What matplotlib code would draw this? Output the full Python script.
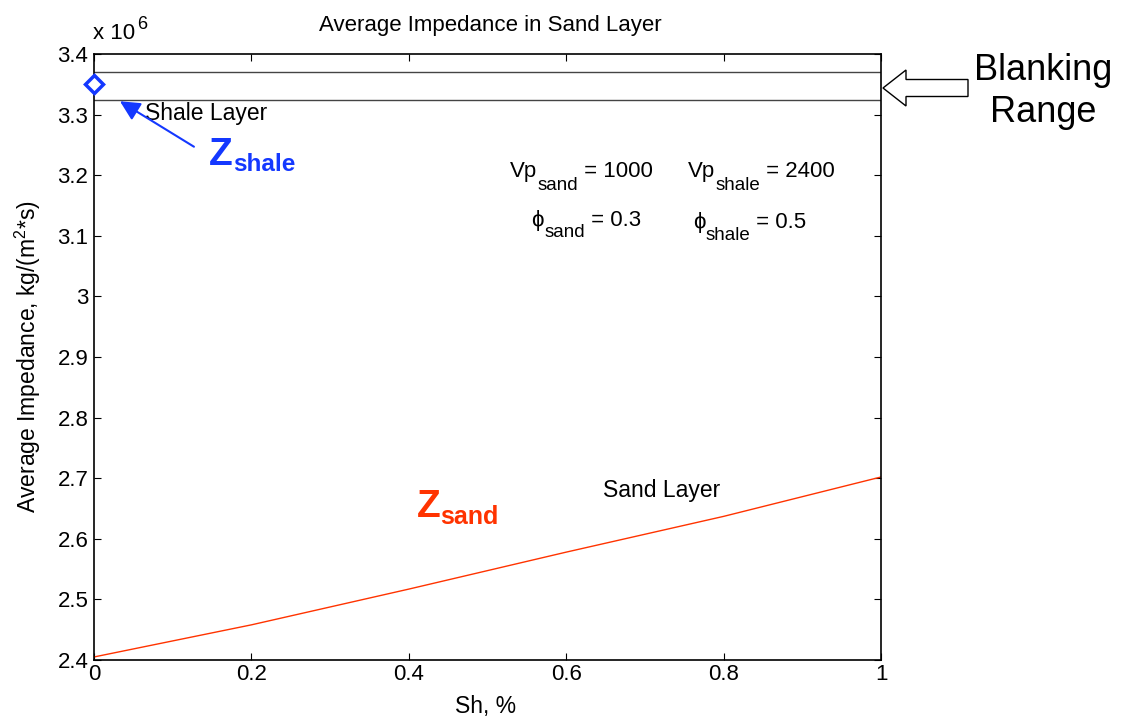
import matplotlib.pyplot as plt
import numpy as np
from matplotlib.patches import FancyArrow
from matplotlib.ticker import FuncFormatter

plt.rcParams['font.family'] = ['Liberation Sans', 'DejaVu Sans']
plt.rcParams['mathtext.fontset'] = 'custom'
plt.rcParams['mathtext.rm'] = 'Liberation Sans'
plt.rcParams['mathtext.it'] = 'Liberation Sans:italic'
plt.rcParams['mathtext.bf'] = 'Liberation Sans:bold'

# sand layer impedance vs shale fraction (x 1e6)
sh = [0.0, 0.2, 0.4, 0.6, 0.8, 1.0]
z_sand = [2.405, 2.458, 2.517, 2.578, 2.637, 2.702]

# shale layer point and blanking range limits (x 1e6)
z_shale = 3.35
blank_hi = 3.37
blank_lo = 3.324

xticks = [0, 0.2, 0.4, 0.6, 0.8, 1]
yticks = [2.4, 2.5, 2.6, 2.7, 2.8, 2.9, 3.0, 3.1, 3.2, 3.3, 3.4]

red = '#ff3300'
blue = '#1438ff'

fig = plt.figure(figsize=(11.32, 7.19), dpi=100)
ax = fig.add_axes([94/1132, 59/719, 787/1132, 606/719])


def sub(t, s, dy, size, **kw):
    # text placed right after t, shifted dy pixels
    return ax.annotate(s, xy=(1, 0), xycoords=t, xytext=(0, dy),
                       textcoords='offset pixels', va='bottom', ha='left',
                       fontsize=size, **kw)


def rest(t, s_art, s, size, **kw):
    # text after s_art, sharing t's baseline
    return ax.annotate(s, xy=(1, 0), xycoords=(s_art, t), va='bottom',
                       ha='left', fontsize=size, **kw)


ax.plot(sh, z_sand, color=red, lw=1.0)
ax.plot([0, 1], [blank_hi, blank_hi], color='#444444', lw=1.0)
ax.plot([0, 1], [blank_lo, blank_lo], color='#444444', lw=1.0)
ax.plot([0], [z_shale], marker='D', ms=9, mfc='white', mec=blue, mew=2.5,
        clip_on=False, zorder=5)

ax.set_xlim(0, 1)
ax.set_ylim(2.4, 3.4)
ax.set_xticks(xticks)
ax.set_yticks(yticks)
ax.xaxis.set_major_formatter(FuncFormatter(lambda v, p: '%g' % v))
ax.yaxis.set_major_formatter(FuncFormatter(lambda v, p: '%g' % v))
ax.tick_params(direction='in', top=True, right=True, length=5, width=0.8,
               labelsize=16)
ax.tick_params(axis='x', pad=3)
ax.tick_params(axis='y', pad=4)
for s in ax.spines.values():
    s.set_linewidth(1.2)

fig.text(490/1132, 1-31/719, 'Average Impedance in Sand Layer', fontsize=16,
         ha='center', va='baseline')
fig.text(486/1132, 1-707/719, 'Sh, %', fontsize=16.5, ha='center', va='center')
fig.text(28/1132, 1-357/719, 'Average Impedance, kg/(m$^2$*s)', fontsize=16.5,
         ha='center', va='center', rotation=90)

fig.text(93/1132, 1-39/719, 'x 10', fontsize=16, ha='left', va='baseline')
fig.text(137/1132, 1-29/719, '6', fontsize=13, ha='left', va='baseline')

ax.text(0.065, 3.291, 'Shale Layer', fontsize=16.5, ha='left', va='baseline')
ax.text(0.647, 2.669, 'Sand Layer', fontsize=16.5, ha='left', va='baseline')

# parameter labels
t1 = ax.text(0.529, 3.197, 'Vp', fontsize=16, ha='left', va='baseline')
s1 = sub(t1, 'sand', -12, 13.5)
rest(t1, s1, ' = 1000', 16)
t2 = ax.text(0.755, 3.197, 'Vp', fontsize=16, ha='left', va='baseline')
s2 = sub(t2, 'shale', -12, 13.5)
rest(t2, s2, ' = 2400', 16)
t3 = ax.text(0.556, 3.116, '\u03d5', fontsize=16, ha='left', va='baseline')
s3 = sub(t3, 'sand', -10, 13.5)
rest(t3, s3, ' = 0.3', 16)
t4 = ax.text(0.761, 3.113, '\u03d5', fontsize=16, ha='left', va='baseline')
s4 = sub(t4, 'shale', -11, 13.5)
rest(t4, s4, ' = 0.5', 16)

# Z labels
zs = ax.text(0.146, 3.217, 'Z', fontsize=28, fontweight='bold', color=blue,
             ha='left', va='baseline')
sub(zs, 'shale', -3, 17.5, fontweight='bold', color=blue)
zd = ax.text(0.410, 2.636, 'Z', fontsize=28, fontweight='bold', color=red,
             ha='left', va='baseline')
sub(zd, 'sand', -4, 18, fontweight='bold', color=red)

ax.annotate('', xy=(0.033, 3.322), xytext=(0.127, 3.247),
            arrowprops=dict(arrowstyle='-|>', color=blue, lw=1.5,
                            mutation_scale=30, shrinkA=0, shrinkB=0))

# hollow arrow marking the blanking range (figure pixel coords)
fig.patches.append(FancyArrow(968/100, (719-88)/100, -85/100, 0,
                              width=17/100, head_width=36/100, head_length=23/100,
                              length_includes_head=True, fc='white', ec='black',
                              lw=1.0, transform=fig.dpi_scale_trans, figure=fig))
fig.text(1043/1132, 1-70/719, 'Blanking', fontsize=26, ha='center', va='center')
fig.text(1043/1132, 1-113/719, 'Range', fontsize=26, ha='center', va='center')

fig.savefig('out.png', dpi=100)
